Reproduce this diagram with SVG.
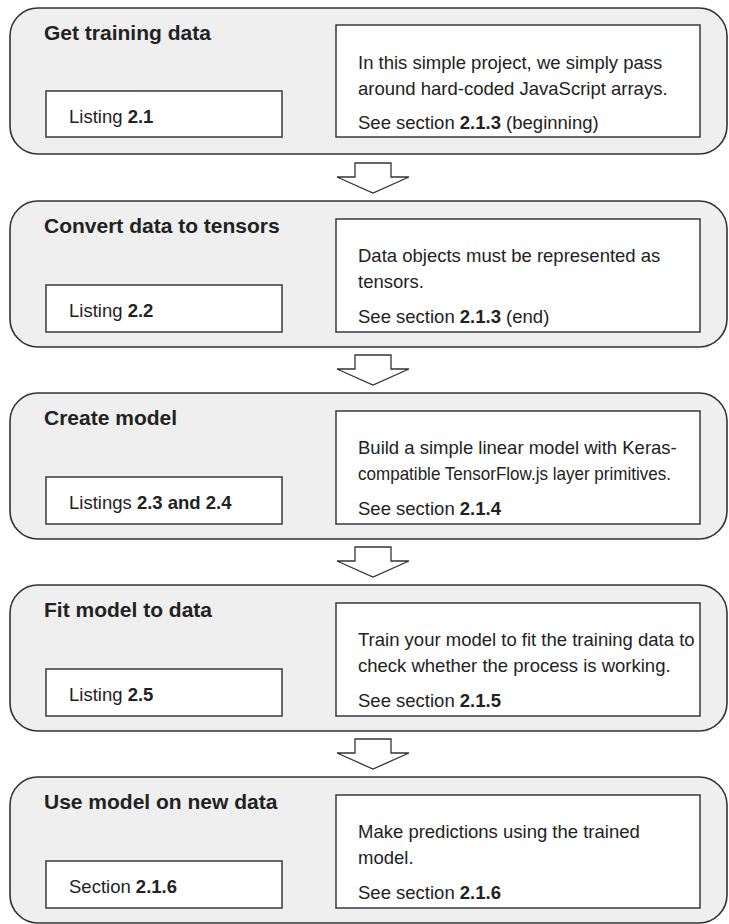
<svg xmlns="http://www.w3.org/2000/svg" width="729" height="924" viewBox="0 0 729 924">
  <style>
    .stage { fill: #efefef; stroke: #333; stroke-width: 1.6; }
    .box { fill: #fff; stroke: #3a3a3a; stroke-width: 1.5; }
    .title { font-family: "Liberation Sans", Arial, sans-serif; font-weight: bold; font-size: 21px; fill: #222; }
    .txt { font-family: "Liberation Sans", Arial, sans-serif; font-size: 18.5px; fill: #222; }
    .b { font-weight: bold; }
    .arrow { fill: #fff; stroke: #333; stroke-width: 1.3; stroke-linejoin: miter; }
  </style>
  <defs>
    <polygon id="down" class="arrow" points="355,0 391,0 391,14 409,14 373,30 337,14 355,14"/>
  </defs>

  <!-- Stage 1 -->
  <g id="get-training-data">
    <rect class="stage" x="10" y="8" width="717" height="146" rx="28" ry="28"/>
    <text class="title" x="44" y="40">Get training data</text>
    <rect class="box" x="46" y="91" width="236" height="46"/>
    <text class="txt" x="69" y="123">Listing <tspan class="b">2.1</tspan></text>
    <rect class="box" x="336" y="25" width="364" height="112"/>
    <text class="txt" x="358" y="69">In this simple project, we simply pass</text>
    <text class="txt" x="358" y="95">around hard-coded JavaScript arrays.</text>
    <text class="txt" x="358" y="129">See section <tspan class="b">2.1.3</tspan> (beginning)</text>
  </g>

  <!-- Stage 2 -->
  <g id="convert-data-to-tensors">
    <rect class="stage" x="10" y="201" width="717" height="146" rx="28" ry="28"/>
    <text class="title" x="44" y="233">Convert data to tensors</text>
    <rect class="box" x="46" y="285" width="236" height="47"/>
    <text class="txt" x="69" y="317">Listing <tspan class="b">2.2</tspan></text>
    <rect class="box" x="336" y="219" width="364" height="113"/>
    <text class="txt" x="358" y="262">Data objects must be represented as</text>
    <text class="txt" x="358" y="288">tensors.</text>
    <text class="txt" x="358" y="323">See section <tspan class="b">2.1.3</tspan> (end)</text>
  </g>

  <!-- Stage 3 -->
  <g id="create-model">
    <rect class="stage" x="10" y="393" width="717" height="146" rx="28" ry="28"/>
    <text class="title" x="44" y="425">Create model</text>
    <rect class="box" x="46" y="477" width="236" height="47"/>
    <text class="txt" x="69" y="509">Listings <tspan class="b">2.3 and 2.4</tspan></text>
    <rect class="box" x="336" y="411" width="364" height="113"/>
    <text class="txt" x="358" y="454">Build a simple linear model with Keras-</text>
    <text class="txt" x="358" y="480" textLength="313" lengthAdjust="spacingAndGlyphs">compatible TensorFlow.js layer primitives.</text>
    <text class="txt" x="358" y="515">See section <tspan class="b">2.1.4</tspan></text>
  </g>

  <!-- Stage 4 -->
  <g id="fit-model-to-data">
    <rect class="stage" x="10" y="585" width="717" height="146" rx="28" ry="28"/>
    <text class="title" x="44" y="617">Fit model to data</text>
    <rect class="box" x="46" y="669" width="236" height="47"/>
    <text class="txt" x="69" y="701">Listing <tspan class="b">2.5</tspan></text>
    <rect class="box" x="336" y="603" width="364" height="113"/>
    <text class="txt" x="358" y="646">Train your model to fit the training data to</text>
    <text class="txt" x="358" y="672">check whether the process is working.</text>
    <text class="txt" x="358" y="707">See section <tspan class="b">2.1.5</tspan></text>
  </g>

  <!-- Stage 5 -->
  <g id="use-model-on-new-data">
    <rect class="stage" x="10" y="777" width="717" height="146" rx="28" ry="28"/>
    <text class="title" x="44" y="809">Use model on new data</text>
    <rect class="box" x="46" y="861" width="236" height="47"/>
    <text class="txt" x="69" y="893">Section <tspan class="b">2.1.6</tspan></text>
    <rect class="box" x="336" y="795" width="364" height="113"/>
    <text class="txt" x="358" y="838">Make predictions using the trained</text>
    <text class="txt" x="358" y="864">model.</text>
    <text class="txt" x="358" y="899">See section <tspan class="b">2.1.6</tspan></text>
  </g>

  <!-- Flow arrows between stages -->
  <g id="connectors">
    <use href="#down" x="0" y="163"/>
    <use href="#down" x="0" y="355"/>
    <use href="#down" x="0" y="547"/>
    <use href="#down" x="0" y="739"/>
  </g>
</svg>
